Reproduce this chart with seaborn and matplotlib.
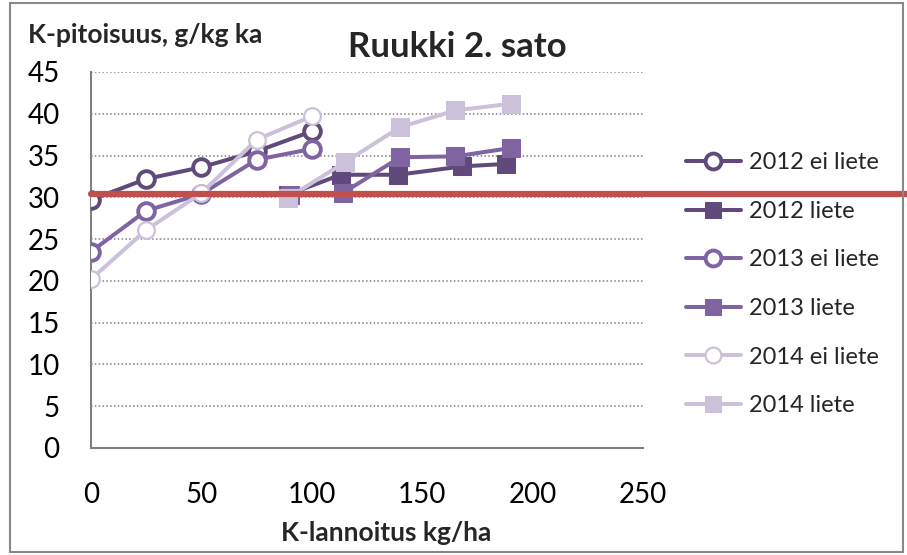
import matplotlib
matplotlib.use("Agg")
import matplotlib.pyplot as plt
from matplotlib.patches import Rectangle
import seaborn as sns
import pandas as pd

# ---- data ----
x_ei = [0, 25, 50, 75, 100]
y_2012_ei = [29.7, 32.2, 33.6, 35.5, 37.9]
y_2013_ei = [23.5, 28.4, 30.4, 34.5, 35.8]
y_2014_ei = [20.2, 26.1, 30.5, 36.9, 39.7]

x_2012_l = [89, 113, 139, 168, 188]
y_2012_l = [30.3, 32.7, 32.7, 33.7, 34.0]
x_2013_l = [90, 114, 140, 165, 190]
y_2013_l = [30.3, 30.5, 34.8, 34.9, 35.9]
x_2014_l = [89, 115, 140, 165, 190]
y_2014_l = [29.9, 34.2, 38.4, 40.4, 41.2]

ref_x = [0, 370]
ref_y = [30.4, 30.4]

labels = ["2012 ei liete", "2012 liete", "2013 ei liete", "2013 liete",
          "2014 ei liete", "2014 liete"]
x_ticks = [0, 50, 100, 150, 200, 250]
y_ticks = [0, 5, 10, 15, 20, 25, 30, 35, 40, 45]

c2012, c2013, c2014 = "#604A7B", "#8064A2", "#CCC1DA"
series = [
    (labels[0], x_ei, y_2012_ei, c2012, "o"),
    (labels[1], x_2012_l, y_2012_l, c2012, "s"),
    (labels[2], x_ei, y_2013_ei, c2013, "o"),
    (labels[3], x_2013_l, y_2013_l, c2013, "s"),
    (labels[4], x_ei, y_2014_ei, c2014, "o"),
    (labels[5], x_2014_l, y_2014_l, c2014, "s"),
]

sns.set_theme(style="white")
plt.rcParams["font.family"] = ["Lato", "DejaVu Sans"]

fig = plt.figure(figsize=(9.07, 5.55), dpi=100)
ax = fig.add_axes([91 / 907, 1 - 448 / 555, (643 - 91) / 907, (448 - 72) / 555])

for lab, xs, ys, col, mk in series:
    df = pd.DataFrame({"x": xs, "y": ys})
    if mk == "o":
        sns.lineplot(data=df, x="x", y="y", ax=ax, sort=False, color=col,
                     linewidth=2.9, marker="o", markersize=12,
                     markerfacecolor="white", markeredgecolor=col,
                     markeredgewidth=2.8 if col != c2014 else 1.6,
                     label=lab, zorder=3)
    else:
        sns.lineplot(data=df, x="x", y="y", ax=ax, sort=False, color=col,
                     linewidth=2.9, marker="s", markersize=12.5,
                     markerfacecolor=col, markeredgecolor=col,
                     label=lab, zorder=3)

ref_df = pd.DataFrame({"x": ref_x, "y": ref_y})
sns.lineplot(data=ref_df, x="x", y="y", ax=ax, color="#C0504D", linewidth=4.5,
             zorder=5, legend=False).lines[-1].set_clip_on(False)

handles, labs = ax.get_legend_handles_labels()
if ax.get_legend() is not None:
    ax.get_legend().remove()

ax.set_xlim(0, 250)
ax.set_ylim(0, 45)
ax.set_xticks(x_ticks)
ax.set_yticks(y_ticks)
ax.tick_params(axis="both", labelsize=20, colors="#808080", labelcolor="black",
               length=6.5, width=1.3, direction="out")
ax.tick_params(axis="x", pad=18)
ax.tick_params(axis="y", pad=16)
ax.yaxis.grid(True, linestyle=(0, (1, 1.5)), color="#808080", linewidth=1.1)
ax.xaxis.grid(False)
for s in ["top", "right"]:
    ax.spines[s].set_visible(False)
for s in ["left", "bottom"]:
    ax.spines[s].set_color("#808080")
    ax.spines[s].set_linewidth(1.5)
ax.set_xlabel("")
ax.set_ylabel("")

leg = fig.legend(handles[:6], labs[:6], loc="upper left",
                 bbox_to_anchor=(665 / 907, 1 - 131 / 555), frameon=False,
                 fontsize=17, labelspacing=1.17, handlelength=2.3,
                 handletextpad=0.35, markerscale=0.95)

fig.text(457 / 907, 1 - 47 / 555, "Ruukki 2. sato", ha="center", va="center",
         fontsize=25, fontweight="bold")
fig.text(28 / 907, 1 - 35 / 555, "K-pitoisuus, g/kg ka", ha="left",
         va="center", fontsize=19, fontweight="bold")
fig.text(386 / 907, 1 - 533 / 555, "K-lannoitus kg/ha", ha="center",
         va="center", fontsize=19, fontweight="bold")

fig.patches.append(Rectangle((10 / 907, 3 / 555), (903 - 10) / 907,
                             (552 - 3) / 555, transform=fig.transFigure,
                             fill=False, edgecolor="#888888", linewidth=1.5,
                             zorder=0))

fig.savefig("out.png", dpi=100)
